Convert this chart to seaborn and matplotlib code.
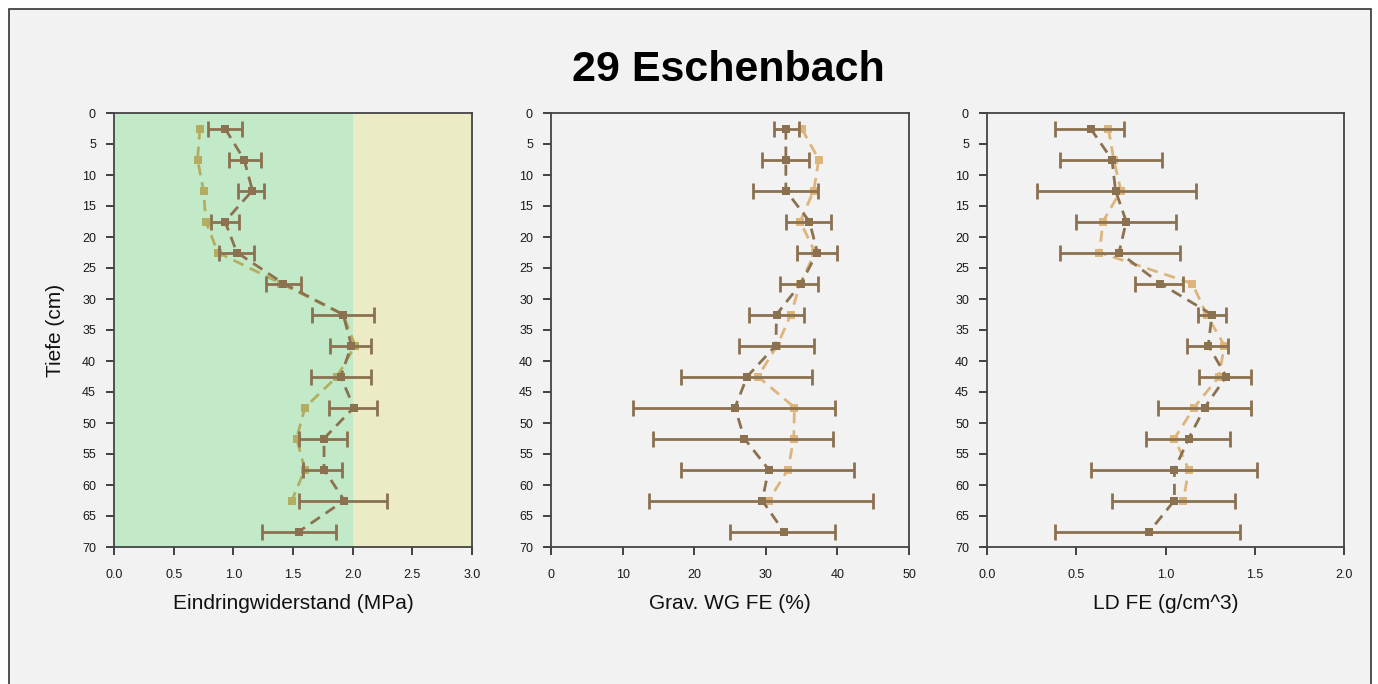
import matplotlib
matplotlib.use("Agg")
import matplotlib.pyplot as plt
from matplotlib.patches import Rectangle
import numpy as np
import pandas as pd
import seaborn as sns

# Sampling depths (cm)
tiefe = [2.5, 7.5, 12.5, 17.5, 22.5, 27.5, 32.5, 37.5, 42.5, 47.5, 52.5, 57.5, 62.5, 67.5]
tiefe_kurz = tiefe[:13]

# Eindringwiderstand (MPa): mean with error range, plus comparison series
ew_mittel = [0.93, 1.09, 1.16, 0.93, 1.03, 1.42, 1.92, 1.99, 1.90, 2.01, 1.76, 1.76, 1.93, 1.55]
ew_min = [0.79, 0.96, 1.04, 0.81, 0.88, 1.27, 1.66, 1.81, 1.65, 1.80, 1.55, 1.58, 1.55, 1.24]
ew_max = [1.07, 1.23, 1.26, 1.05, 1.17, 1.57, 2.18, 2.15, 2.15, 2.20, 1.95, 1.91, 2.29, 1.86]
ew_vergleich = [0.72, 0.70, 0.75, 0.77, 0.87, 1.40, 1.92, 2.02, 1.87, 1.60, 1.53, 1.60, 1.49]

# Gravimetrischer Wassergehalt (%)
wg_mittel = [32.8, 32.8, 32.8, 36.1, 37.2, 34.9, 31.5, 31.4, 27.4, 25.7, 27.0, 30.4, 29.5, 32.5]
wg_min = [31.1, 29.5, 28.2, 32.8, 34.3, 32.0, 27.7, 26.3, 18.2, 11.5, 14.2, 18.2, 13.7, 25.0]
wg_max = [34.6, 36.0, 37.3, 39.1, 40.0, 37.3, 35.3, 36.7, 36.4, 39.7, 39.4, 42.3, 45.0, 39.7]
wg_vergleich = [35.0, 37.4, 36.7, 34.8, 36.9, 34.8, 33.5, 31.6, 28.9, 34.0, 33.9, 33.1, 30.4]

# Lagerungsdichte (g/cm^3)
ld_mittel = [0.58, 0.70, 0.72, 0.78, 0.74, 0.97, 1.26, 1.24, 1.34, 1.22, 1.13, 1.05, 1.05, 0.91]
ld_min = [0.38, 0.41, 0.28, 0.50, 0.41, 0.83, 1.18, 1.12, 1.19, 0.96, 0.89, 0.58, 0.70, 0.38]
ld_max = [0.77, 0.98, 1.17, 1.06, 1.08, 1.10, 1.34, 1.35, 1.48, 1.48, 1.36, 1.51, 1.39, 1.42]
ld_vergleich = [0.68, 0.71, 0.75, 0.65, 0.63, 1.15, 1.23, 1.33, 1.30, 1.16, 1.05, 1.13, 1.10]

titel = "29 Eschenbach"
x_labels = ["Eindringwiderstand (MPa)", "Grav. WG FE (%)", "LD FE (g/cm^3)"]
y_label = "Tiefe (cm)"

BG = "#f2f2f2"
DUNKEL = "#8b7150"
OLIV = "#b3ad62"
BEIGE = "#ddb57c"

sns.set_theme(style="ticks")
plt.rcParams["font.family"] = ["Liberation Sans", "DejaVu Sans"]

fig = plt.figure(figsize=(13.78, 6.84), dpi=100, facecolor="white")
fig.patches.append(Rectangle((9 / 1378, -0.1), (1371 - 9) / 1378, 1.1 - 9 / 684,
                             transform=fig.transFigure, facecolor=BG,
                             edgecolor="#333333", linewidth=1.2, zorder=-10))

H = 684.0
W = 1378.0
positions = [(114, 472), (551, 909), (987, 1344)]
top, bottom = 113, 547
axes = [fig.add_axes([l / W, (H - bottom) / H, (r - l) / W, (bottom - top) / H]) for l, r in positions]

panels = [
    (ew_mittel, ew_min, ew_max, ew_vergleich, OLIV, (0, 3), np.arange(0, 3.01, 0.5), "{:.1f}"),
    (wg_mittel, wg_min, wg_max, wg_vergleich, BEIGE, (0, 50), np.arange(0, 51, 10), "{:.0f}"),
    (ld_mittel, ld_min, ld_max, ld_vergleich, BEIGE, (0, 2), np.arange(0, 2.01, 0.5), "{:.1f}"),
]

for i, (ax, (mittel, vmin, vmax, vergl, vcol, xlim, xticks, fmt)) in enumerate(zip(axes, panels)):
    ax.set_facecolor(BG)
    if i == 0:
        ax.axvspan(0, 2, color="#c3eac8", zorder=0, lw=0)
        ax.axvspan(2, 3, color="#ebebc6", zorder=0, lw=0)

    dv = pd.DataFrame({"wert": vergl, "tiefe": tiefe_kurz})
    sns.lineplot(data=dv, x="wert", y="tiefe", orient="y", sort=False, ax=ax,
                 color=vcol, lw=2, marker="s", markersize=6, markeredgewidth=0,
                 dashes=(4, 2.5), zorder=3)

    m = np.array(mittel)
    xerr = np.vstack([m - np.array(vmin), np.array(vmax) - m])
    ax.errorbar(m, tiefe, xerr=xerr, fmt="none", ecolor=DUNKEL, elinewidth=2,
                capsize=6, capthick=2, zorder=4)
    dm = pd.DataFrame({"wert": mittel, "tiefe": tiefe})
    sns.lineplot(data=dm, x="wert", y="tiefe", orient="y", sort=False, ax=ax,
                 color=DUNKEL, lw=2, marker="s", markersize=6, markeredgewidth=0,
                 dashes=(4, 2.5), zorder=5)

    ax.set_xlim(*xlim)
    ax.set_ylim(70, 0)
    ax.set_xticks(xticks)
    ax.set_xticklabels([fmt.format(t) for t in xticks])
    ax.set_yticks(np.arange(0, 71, 5))
    ax.tick_params(axis="both", labelsize=9, length=6, width=1.3, color="#333333",
                   labelcolor="#1a1a1a")
    ax.tick_params(axis="x", pad=10)
    ax.tick_params(axis="y", pad=7)
    for s in ax.spines.values():
        s.set_color("#444444")
        s.set_linewidth(1.3)
    ax.set_xlabel(x_labels[i], fontsize=15, labelpad=9, color="#111111")
    ax.set_ylabel(y_label if i == 0 else "", fontsize=15, labelpad=12, color="#111111")

fig.text(728 / W, 1 - 70 / H, titel, ha="center", va="center",
         fontsize=31, fontweight="bold", color="black")

fig.savefig("out.png", dpi=100, facecolor="white")
